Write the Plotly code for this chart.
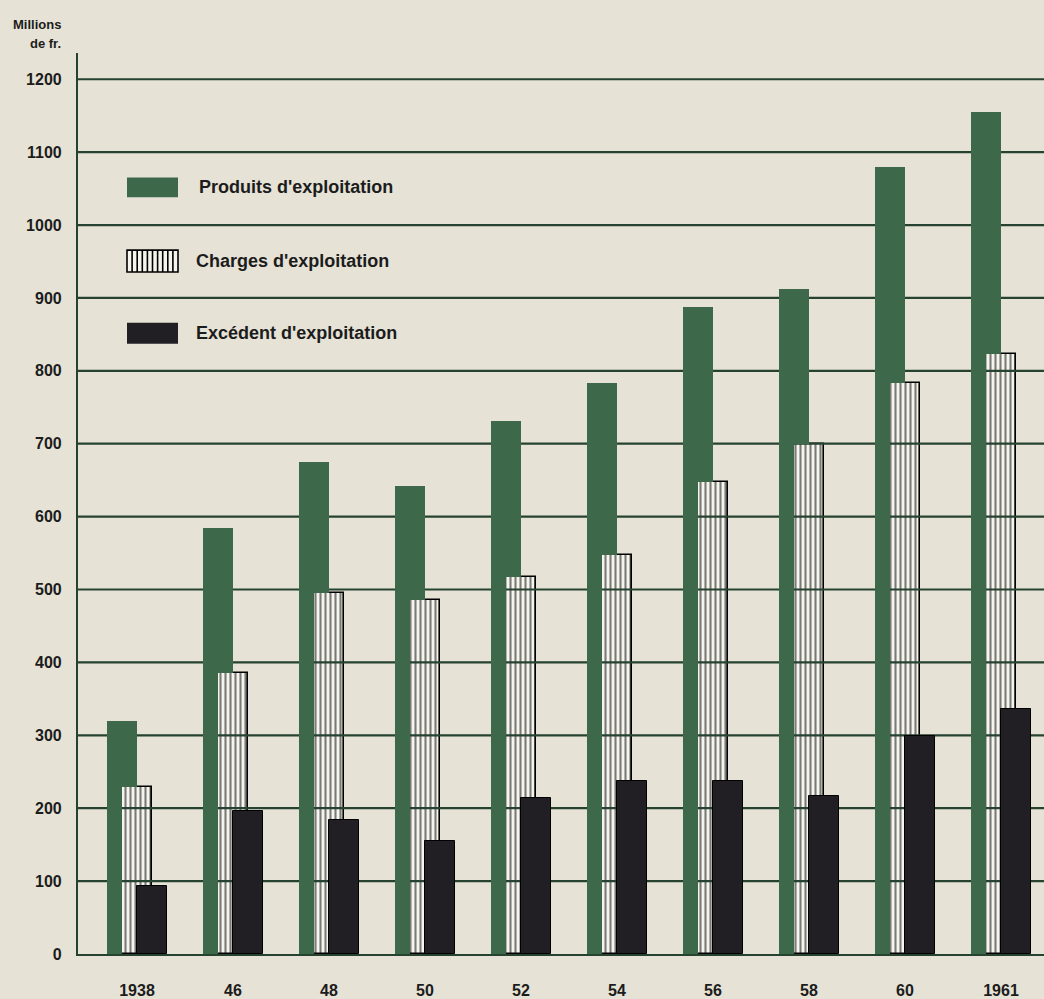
import plotly.graph_objects as go

# Exploitation results, millions de francs
years = ["1938", "46", "48", "50", "52", "54", "56", "58", "60", "1961"]
produits = [320, 585, 675, 642, 731, 783, 887, 912, 1080, 1155]
charges = [229, 386, 495, 486, 517, 547, 648, 699, 783, 823]
excedent = [93, 196, 184, 155, 214, 238, 238, 217, 299, 336]
y_ticks = [0, 100, 200, 300, 400, 500, 600, 700, 800, 900, 1000, 1100, 1200]

BG = "rgb(230,227,214)"
GREEN = "rgb(62,104,74)"
DARK = "rgb(33,31,36)"
GRID = "rgb(38,66,48)"
PALE = "rgb(246,245,237)"
INK = "rgb(28,28,28)"
FONT = "Liberation Sans"

xs = list(range(len(years)))
W_BAR = 0.3125
HALF = 0.156
X_RANGE = [-0.6146, 9.448]
Y_RANGE = [0, 1236]

# plot-area geometry in pixels (used for the hand-drawn key)
L, T, PW, PH = 78, 53, 966, 905


def px(xp):
    return (xp - L) / PW


def py(yp):
    return (T + PH - yp) / PH


fig = go.Figure()

# --- lower layer (y): hatched "charges" bars and the horizontal rules ---
fig.add_trace(go.Bar(
    x=xs, y=charges, offset=-HALF, width=W_BAR, yaxis="y",
    marker=dict(color=PALE,
                pattern=dict(shape="|", size=5, solidity=0.42,
                             fgcolor="black", bgcolor=PALE),
                line=dict(color="black", width=1.6)),
    hoverinfo="skip", showlegend=False))

gx, gy = [], []
for v in y_ticks[1:]:
    gx += [X_RANGE[0], X_RANGE[1], None]
    gy += [v, v, None]
fig.add_trace(go.Scatter(x=gx, y=gy, mode="lines", yaxis="y",
                         line=dict(color=GRID, width=2.2),
                         hoverinfo="skip", showlegend=False))

# --- upper layer (y2): green "produits" and dark "excédent" bars ---
# green: left strip plus the part standing above the hatched bar
fig.add_trace(go.Bar(
    x=xs, y=produits, offset=-W_BAR, width=W_BAR - HALF - 0.004, yaxis="y2",
    marker=dict(color=GREEN, line=dict(width=0)),
    hoverinfo="skip", showlegend=False))
fig.add_trace(go.Bar(
    x=xs, y=[p - c for p, c in zip(produits, charges)], base=charges,
    offset=-HALF - 0.004, width=HALF + 0.004, yaxis="y2",
    marker=dict(color=GREEN, line=dict(width=0)),
    hoverinfo="skip", showlegend=False))
fig.add_trace(go.Bar(
    x=xs, y=excedent, offset=0, width=W_BAR, yaxis="y2",
    marker=dict(color=DARK, line=dict(color="black", width=1)),
    hoverinfo="skip", showlegend=False))

shapes = []
annotations = []

# key: swatches
shapes.append(dict(type="rect", xref="paper", yref="paper",
                   x0=px(127), x1=px(178), y0=py(198), y1=py(178),
                   fillcolor=GREEN, line=dict(width=0)))
shapes.append(dict(type="rect", xref="paper", yref="paper",
                   x0=px(127), x1=px(178), y0=py(273), y1=py(251),
                   fillcolor=PALE, line=dict(color="black", width=1.6)))
for k in range(1, 10):
    xv = 127 + 5.1 * k
    shapes.append(dict(type="line", xref="paper", yref="paper",
                       x0=px(xv), x1=px(xv), y0=py(273), y1=py(251),
                       line=dict(color="black", width=1.6)))
shapes.append(dict(type="rect", xref="paper", yref="paper",
                   x0=px(127), x1=px(178), y0=py(345), y1=py(324),
                   fillcolor=DARK, line=dict(width=0)))

key_texts = [("Produits d'exploitation", 197, 188),
             ("Charges d'exploitation", 194, 262),
             ("Excédent d'exploitation", 194, 334)]
for txt, xp, yp in key_texts:
    annotations.append(dict(text="<b>" + txt + "</b>", xref="paper", yref="paper",
                            x=px(xp), y=py(yp), xanchor="left", yanchor="middle",
                            showarrow=False,
                            font=dict(family=FONT, size=18, color=INK)))

# unit label
annotations.append(dict(text="<b>Millions</b>", xref="paper", yref="paper",
                        x=px(63), y=py(24), xanchor="right", yanchor="middle",
                        showarrow=False, font=dict(family=FONT, size=13, color=INK)))
annotations.append(dict(text="<b>de fr.</b>", xref="paper", yref="paper",
                        x=px(63), y=py(43), xanchor="right", yanchor="middle",
                        showarrow=False, font=dict(family=FONT, size=13, color=INK)))

fig.update_layout(
    width=1044, height=999,
    margin=dict(l=L, r=0, t=T, b=999 - T - PH),
    paper_bgcolor=BG, plot_bgcolor=BG,
    barmode="overlay", bargap=0,
    showlegend=False,
    shapes=shapes, annotations=annotations,
    font=dict(family=FONT, color=INK),
    yaxis2=dict(overlaying="y", range=Y_RANGE, visible=False,
                showgrid=False, zeroline=False),
)

fig.update_xaxes(
    range=X_RANGE, tickmode="array", tickvals=xs,
    ticktext=["<b>" + y + "</b>" for y in years],
    tickfont=dict(family=FONT, size=16, color=INK),
    showgrid=False, zeroline=False,
    showline=True, linecolor=GRID, linewidth=2.2,
    ticks="", ticklabelstandoff=21,
)
fig.update_layout(yaxis=dict(
    range=Y_RANGE, tickmode="array", tickvals=y_ticks,
    ticktext=["<b>%d</b>" % v for v in y_ticks],
    tickfont=dict(family=FONT, size=16, color=INK),
    showgrid=False, zeroline=False,
    showline=True, linecolor=GRID, linewidth=2.2,
    ticks="", ticklabelstandoff=11,
))

fig.write_html("out.html")
